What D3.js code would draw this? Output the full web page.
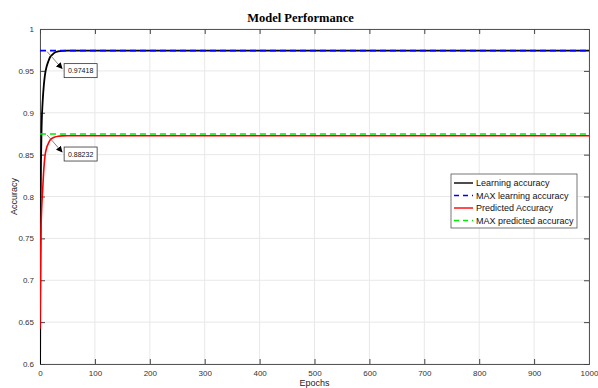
<!DOCTYPE html>
<html>
<head>
<meta charset="utf-8">
<script src="https://cdn.jsdelivr.net/npm/d3@7"></script>
<style>
body { margin: 0; background: #fff; }
svg { font-family: "Liberation Sans", Arial, sans-serif; }
.axis text { fill: #333; font-size: 8px; }
</style>
</head>
<body>
<div id="chart"></div>
<script>
// data
var learnEpochs = [0, 1, 2, 3, 5, 7, 9, 12, 15, 18, 22, 27, 33, 40, 50, 1000];
var learnAcc    = [0.55, 0.78, 0.85, 0.885, 0.915, 0.933, 0.945, 0.955, 0.961, 0.966, 0.969, 0.972, 0.9733, 0.9740, 0.9741, 0.9741];
var predEpochs  = [0, 1, 2, 3, 5, 7, 9, 12, 15, 18, 22, 27, 33, 40, 50, 1000];
var predAcc     = [0.642, 0.72, 0.765, 0.785, 0.81, 0.833, 0.848, 0.858, 0.863, 0.867, 0.8695, 0.871, 0.872, 0.8724, 0.8725, 0.8725];
var maxLearn = 0.97418;
var maxPred = 0.8746;
var annotations = [{epoch: 13, value: 0.97418, label: "0.97418"},
                   {epoch: 13, value: 0.8746, label: "0.88232"}];
var xTicks = [0, 100, 200, 300, 400, 500, 600, 700, 800, 900, 1000];
var yTicks = [0.6, 0.65, 0.7, 0.75, 0.8, 0.85, 0.9, 0.95, 1];
var legendNames = ["Learning accuracy", "MAX learning accuracy", "Predicted Accuracy", "MAX predicted accuracy"];
var legendColors = ["#000000", "#0000ff", "#ff0000", "#00ee00"];
var legendDashed = [false, true, false, true];

var W = 598, H = 388;
var margin = {top: 29, right: 9, bottom: 24, left: 40};
var w = W - margin.left - margin.right, h = H - margin.top - margin.bottom;

var svg = d3.select("#chart").append("svg").attr("width", W).attr("height", H);
svg.append("defs").append("clipPath").attr("id", "clip")
  .append("rect").attr("width", w).attr("height", h);
svg.select("defs").append("marker").attr("id", "arrow")
  .attr("viewBox", "0 0 10 10").attr("refX", 9).attr("refY", 5)
  .attr("markerWidth", 8).attr("markerHeight", 8).attr("orient", "auto")
  .append("path").attr("d", "M0,0 L10,5 L0,10 z").attr("fill", "#000");

var g = svg.append("g").attr("transform", "translate(" + margin.left + "," + margin.top + ")");

var x = d3.scaleLinear().domain([0, 1000]).range([0, w]);
var y = d3.scaleLinear().domain([0.6, 1]).range([h, 0]);

// grid
g.append("g").selectAll("line").data(xTicks).enter().append("line")
  .attr("x1", x).attr("x2", x).attr("y1", 0).attr("y2", h)
  .attr("stroke", "#e8e8e8").attr("stroke-width", 1);
g.append("g").selectAll("line").data(yTicks).enter().append("line")
  .attr("y1", y).attr("y2", y).attr("x1", 0).attr("x2", w)
  .attr("stroke", "#e8e8e8").attr("stroke-width", 1);

// box axes, ticks inside
var ax = g.append("g").attr("class", "axis");
ax.append("g").attr("transform", "translate(0," + h + ")")
  .call(d3.axisBottom(x).tickValues(xTicks).tickSize(-5).tickPadding(6).tickFormat(d3.format("d")));
ax.append("g")
  .call(d3.axisLeft(y).tickValues(yTicks).tickSize(-5).tickPadding(6).tickFormat(function(d) { return d3.format("")(+d.toFixed(2)); }));
ax.append("g")
  .call(d3.axisTop(x).tickValues(xTicks).tickSize(-5).tickFormat(""));
ax.append("g").attr("transform", "translate(" + w + ",0)")
  .call(d3.axisRight(y).tickValues(yTicks).tickSize(-5).tickFormat(""));
ax.selectAll("path.domain").attr("stroke", "#555");
ax.selectAll(".tick line").attr("stroke", "#444");

// lines
var line = d3.line().x(function(d) { return x(d[0]); }).y(function(d) { return y(d[1]); })
  .curve(d3.curveMonotoneX);
var plot = g.append("g").attr("clip-path", "url(#clip)");

plot.append("path").datum(d3.zip(learnEpochs, learnAcc))
  .attr("d", line).attr("fill", "none").attr("stroke", "#000").attr("stroke-width", 1.8);
plot.append("path").datum([[0, maxLearn], [1000, maxLearn]])
  .attr("d", line).attr("fill", "none").attr("stroke", "#0000ff").attr("stroke-width", 1.6)
  .attr("stroke-dasharray", "6,4");
plot.append("path").datum(d3.zip(predEpochs, predAcc))
  .attr("d", line).attr("fill", "none").attr("stroke", "#ff0000").attr("stroke-width", 1.6);
plot.append("path").datum([[0, maxPred], [1000, maxPred]])
  .attr("d", line).attr("fill", "none").attr("stroke", "#00ee00").attr("stroke-width", 1.6)
  .attr("stroke-dasharray", "6,4");

// annotations
annotations.forEach(function(a) {
  var ax0 = x(a.epoch), ay0 = y(a.value);
  g.append("line").attr("x1", ax0).attr("y1", ay0 + 1)
    .attr("x2", ax0 + 15).attr("y2", ay0 + 18)
    .attr("stroke", "#666").attr("stroke-width", 0.8).attr("marker-end", "url(#arrow)");
  g.append("rect").attr("x", ax0 + 17).attr("y", ay0 + 13).attr("width", 33).attr("height", 14)
    .attr("fill", "#fff").attr("stroke", "#333").attr("stroke-width", 0.8);
  g.append("text").attr("x", ax0 + 33.5).attr("y", ay0 + 22.5).attr("text-anchor", "middle")
    .attr("font-size", "7px").attr("fill", "#111").text(a.label);
});

// legend
var lg = g.append("g").attr("transform", "translate(" + (w - 138) + ",145)");
lg.append("rect").attr("width", 126).attr("height", 54)
  .attr("fill", "#fff").attr("stroke", "#555").attr("stroke-width", 0.8);
legendNames.forEach(function(n, i) {
  var yy = 9 + i * 12.5;
  lg.append("line").attr("x1", 3).attr("x2", 22).attr("y1", yy).attr("y2", yy)
    .attr("stroke", legendColors[i]).attr("stroke-width", 1.4)
    .attr("stroke-dasharray", legendDashed[i] ? "5,4" : null);
  lg.append("text").attr("x", 25).attr("y", yy + 3.3).attr("font-size", "9px").attr("fill", "#111").text(n);
});

// titles
svg.append("text").attr("x", margin.left + w / 2 - 14).attr("y", 22).attr("text-anchor", "middle")
  .attr("font-family", "'Liberation Serif', 'Times New Roman', serif").attr("font-weight", "bold")
  .attr("font-size", "12.5px").text("Model Performance");
svg.append("text").attr("x", margin.left + w / 2).attr("y", 386).attr("text-anchor", "middle")
  .attr("font-size", "9px").attr("fill", "#222").text("Epochs");
svg.append("text").attr("transform", "translate(17," + (margin.top + h / 2) + ") rotate(-90)")
  .attr("text-anchor", "middle").attr("font-size", "9px").attr("fill", "#222").text("Accuracy");
</script>
</body>
</html>
